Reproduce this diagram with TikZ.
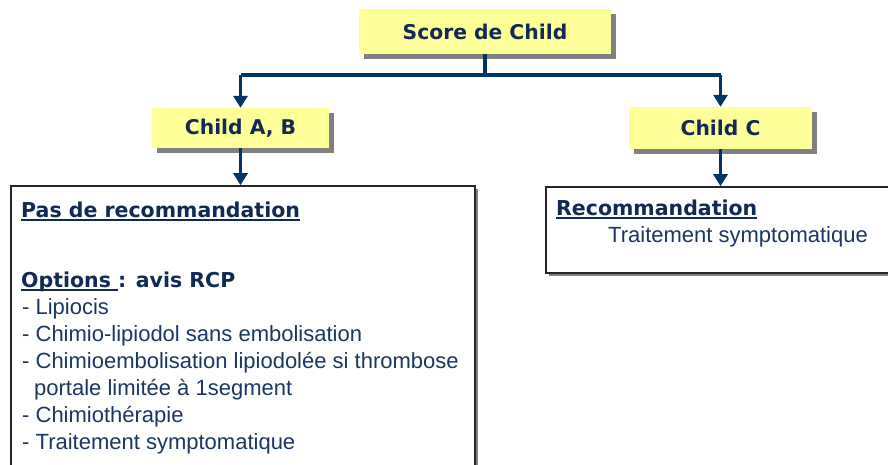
\documentclass[tikz,border=0pt]{standalone}
\usepackage{fontspec}
\setmainfont{Liberation Sans}
\newfontfamily\hdf{DejaVu Sans}
\usetikzlibrary{arrows.meta,shadows}
\definecolor{navy}{RGB}{0,51,102}
\definecolor{txt}{RGB}{26,55,100}
\definecolor{txtb}{RGB}{16,42,85}
\definecolor{ylw}{RGB}{255,255,153}
\newcommand\myul[1]{\setbox0\hbox{#1}\rlap{\vrule height -2pt depth 3.8pt width \wd0}\box0}
\begin{document}
\begin{tikzpicture}[x=1pt,y=-1pt,
  conn/.style={draw=navy,line width=3.5pt},
  arr/.style={conn,-{Triangle[width=14pt,length=12pt]}},
  ybox/.style={fill=ylw,draw=none,inner sep=0pt,
    drop shadow={shadow xshift=5pt,shadow yshift=-5pt,fill=black!50,opacity=1},
    font=\hdf\bfseries\fontsize{20.3}{24}\selectfont,text=txtb},
  wbox/.style={fill=white,draw=black!85,line width=1.6pt,inner sep=0pt,
    drop shadow={shadow xshift=3pt,shadow yshift=-3pt,fill=black!50,opacity=1}},
  hd/.style={anchor=base west,inner sep=0pt,text=txtb,font=\hdf\bfseries\fontsize{20.5}{24}\selectfont},
  tx/.style={anchor=base west,inner sep=0pt,text=txt,font=\fontsize{22}{27}\selectfont}]
\clip (0,0) rectangle (888,465);
\fill[white] (0,0) rectangle (888,465);
% boxes
\node[ybox,minimum width=252pt,minimum height=45pt] (score) at (485,31.5) {Score de Child};
\node[ybox,minimum width=177pt,minimum height=40pt] (cab) at (240.5,128) {Child A, B};
\node[ybox,minimum width=183pt,minimum height=42pt] (cc) at (720.5,128) {Child C};
\node[wbox,minimum width=464pt,minimum height=304pt] (lbox) at (243,338) {};
\node[wbox,minimum width=354pt,minimum height=86pt] (rbox) at (723,230) {};
% connectors
\coordinate (j) at (485,75);
\draw[conn] (score.south) -- (j);
\draw[conn] (cab.north |- j) -- (cc.north |- j);
\draw[arr] (cab.north |- j) -- (cab.north);
\draw[arr] (cc.north |- j) -- (cc.north);
\draw[arr] (cab.south) -- (cab.south |- lbox.north);
\draw[arr] (cc.south) -- (cc.south |- rbox.north);
% left box text
\node[hd] (l1) at (21,217) {\myul{Pas de recommandation}};
\node[hd] (l2) at (21,287) {\myul{Options }: avis RCP};
\node[tx] (l3) at (22,314) {- Lipiocis};
\node[tx] (l4) at (22,341) {- Chimio-lipiodol sans embolisation};
\node[tx] (l5) at (22,368) {- Chimioembolisation lipiodolée si thrombose};
\node[tx] (l6) at (34,395) {portale limitée à 1segment};
\node[tx] (l7) at (22,422) {- Chimiothérapie};
\node[tx] (l8) at (22,449) {- Traitement symptomatique};
% right box text
\node[hd] (r1) at (556,215) {\myul{Recommandation}};
\node[tx] (r2) at (608,242) {Traitement symptomatique};
\end{tikzpicture}
\end{document}
